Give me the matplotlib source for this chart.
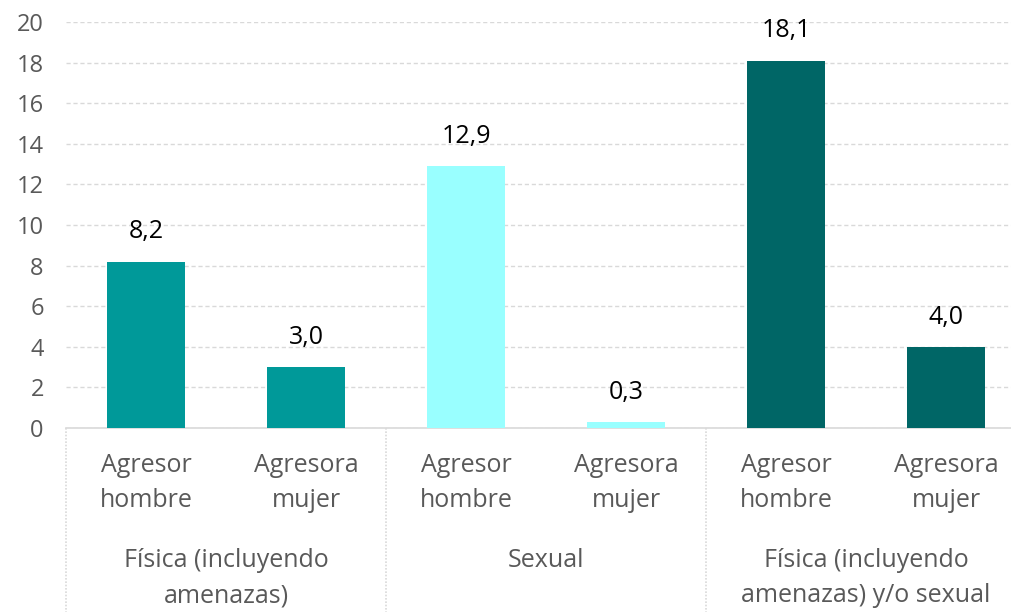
import matplotlib.pyplot as plt
from matplotlib.transforms import blended_transform_factory

# data
sub_labels = ["Agresor\nhombre", "Agresora\nmujer"] * 3
group_labels = ["Física (incluyendo\namenazas)", "Sexual",
                "Física (incluyendo\namenazas) y/o sexual"]
values = [8.2, 3.0, 12.9, 0.3, 18.1, 4.0]
colors = ["#009999", "#009999", "#99FFFF", "#99FFFF", "#006666", "#006666"]

plt.rcParams['font.family'] = ['Open Sans', 'DejaVu Sans']

fig = plt.figure(figsize=(10.11, 6.12), dpi=100)
ax = fig.add_axes([66 / 1011, 184 / 612, 960 / 1011, 406 / 612])

x = list(range(len(values)))
ax.bar(x, values, width=0.49, color=colors, zorder=3)

for xi, v in zip(x, values):
    ax.text(xi, v + 0.85, f"{v:.1f}".replace(".", ","), ha="center", va="bottom",
            fontsize=18, color="black")

ax.set_xlim(-0.5, 5.5)
ax.set_ylim(0, 20)
ax.set_yticks(range(0, 21, 2))
ax.tick_params(axis="y", length=0, pad=16, labelsize=17, labelcolor="#595959")
ax.yaxis.grid(True, color="#D9D9D9", linestyle=(0, (3, 2)), linewidth=1)
ax.set_axisbelow(True)

ax.set_xticks(x)
ax.set_xticklabels(sub_labels, fontsize=18, color="#595959", linespacing=1.55)
ax.tick_params(axis="x", length=0, pad=18)

for s in ["top", "right", "left"]:
    ax.spines[s].set_visible(False)
ax.spines["bottom"].set_color("#D9D9D9")
ax.spines["bottom"].set_linestyle((0, (1, 1)))
ax.spines["bottom"].set_linewidth(1.2)

# group separators and labels
trans = blended_transform_factory(ax.transData, ax.transAxes)
for b in [-0.5, 1.5, 3.5, 5.5]:
    ax.plot([b, b], [0, -0.5], transform=trans, color="#D9D9D9",
            linestyle=(0, (1, 1)), linewidth=1.2, clip_on=False)
for i, g in enumerate(group_labels):
    ax.text(2 * i + 0.5, -0.295, g, transform=trans, ha="center", va="top",
            fontsize=18, color="#595959", linespacing=1.55)

fig.savefig("out.png", dpi=100)
